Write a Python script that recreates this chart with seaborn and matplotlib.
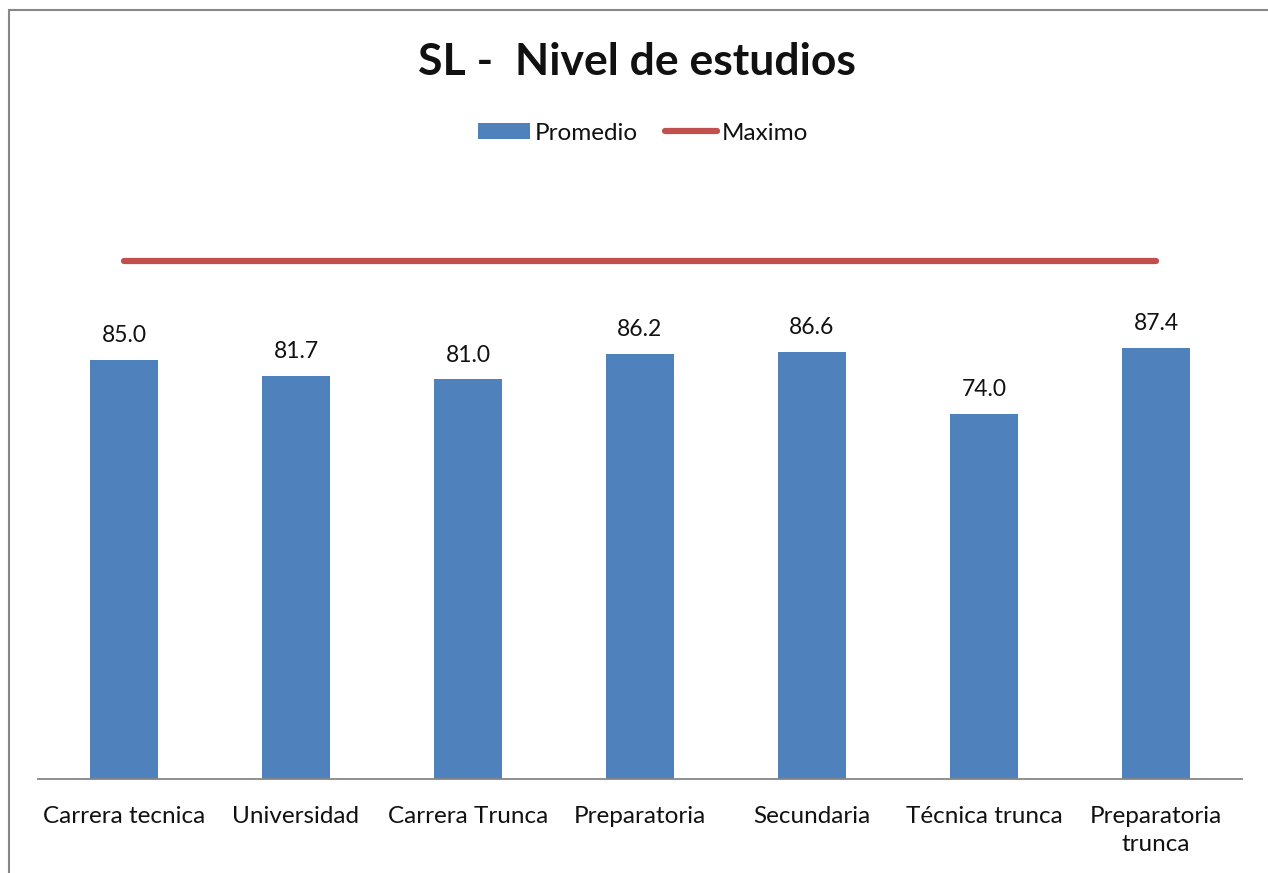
import numpy as np
import pandas as pd
import matplotlib
matplotlib.use('Agg')
import matplotlib.pyplot as plt
import seaborn as sns
from matplotlib.patches import Patch, Rectangle
from matplotlib.lines import Line2D

# datos
niveles = ['Carrera tecnica', 'Universidad', 'Carrera Trunca', 'Preparatoria',
           'Secundaria', 'Técnica trunca', 'Preparatoria\ntrunca']
promedio = [85.0, 81.7, 81.0, 86.2, 86.6, 74.0, 87.4]
maximo = [105, 105, 105, 105, 105, 105, 105]

df = pd.DataFrame({'nivel': niveles, 'promedio': promedio, 'maximo': maximo})

sns.set_style('white')
plt.rcParams['font.family'] = ['Lato', 'DejaVu Sans']

azul = '#4F81BD'
rojo = '#C0504D'

fig = plt.figure(figsize=(12.68, 8.73), dpi=100)
ax = fig.add_axes([38/1268, (873-778.5)/873, 1204/1268, 120*4.926/873])

sns.barplot(data=df, x='nivel', y='promedio', color=azul, width=0.395,
            saturation=1, linewidth=0, ax=ax)
ax.plot(np.arange(len(niveles)), df['maximo'], color=rojo, lw=4.5,
        solid_capstyle='round')

for i, v in enumerate(promedio):
    ax.annotate(f'{v:.1f}', (i, v), xytext=(0, 10), textcoords='offset points',
                ha='center', va='bottom', fontsize=16.5, color='#111111')

ax.set_ylim(0, 120)
ax.set_xlim(-0.5, len(niveles) - 0.5)
ax.set_xlabel('')
ax.set_ylabel('')
ax.set_yticks([])
ax.tick_params(axis='x', length=0, pad=19.5, labelsize=17.5, colors='#111111')
for lab in ax.get_xticklabels():
    lab.set_linespacing(1.45)
for s in ['top', 'right', 'left']:
    ax.spines[s].set_visible(False)
ax.spines['bottom'].set_color('#868686')
ax.spines['bottom'].set_linewidth(1.3)

fig.text(637/1268, 1 - 62/873, 'SL -  Nivel de estudios', ha='center', va='center',
         fontsize=32, fontweight='bold', color='#111111')

handles = [Patch(facecolor=azul, edgecolor='none'),
           Line2D([0], [0], color=rojo, lw=4.5, solid_capstyle='round')]
fig.legend(handles, ['Promedio', 'Maximo'], loc='center',
           bbox_to_anchor=(643/1268, 1 - 133/873), ncol=2, frameon=False,
           fontsize=17.5, handlelength=2.15, handleheight=0.6, handletextpad=0.2,
           columnspacing=1.1, labelcolor='#111111')

# marco del grafico
fig.patches.append(Rectangle((9/1268, -0.1), 1.2, 1 - 10/873 + 0.1,
                             transform=fig.transFigure, fill=False,
                             edgecolor='#878787', lw=1.5))

fig.savefig('out.png', dpi=100)
